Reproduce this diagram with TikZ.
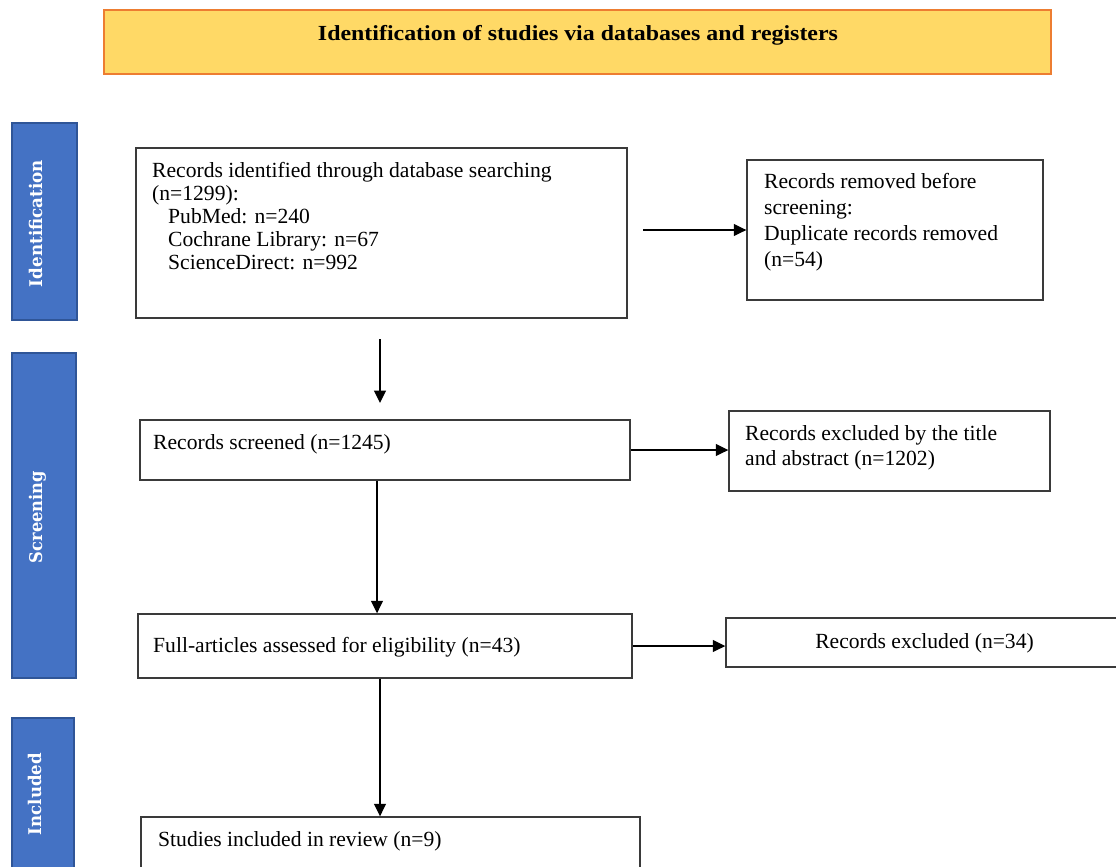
\documentclass[tikz,border=0pt]{standalone}
\usepackage{fontspec}
\setmainfont{Liberation Serif}
\newfontfamily\sidefont{DejaVu Serif}
\usetikzlibrary{arrows.meta}
\definecolor{titlefill}{HTML}{FFD966}
\definecolor{titleborder}{HTML}{ED7D31}
\definecolor{sidefill}{HTML}{4472C4}
\definecolor{sideborder}{HTML}{2F5597}
\definecolor{boxline}{HTML}{3A3A3A}
\begin{document}
\begin{tikzpicture}[x=1pt,y=-1pt,
  box/.style={draw=boxline, line width=1.4pt, rectangle, inner sep=0pt, fill=white},
  titlebox/.style={draw=titleborder, fill=titlefill, line width=2.5pt, rectangle, inner sep=0pt},
  sidebar/.style={draw=sideborder, fill=sidefill, line width=2pt, rectangle, inner sep=0pt},
  sidetext/.style={rotate=90, anchor=base, inner sep=0pt, text=white, font=\sidefont\bfseries\fontsize{17.5}{20}\selectfont},
  txt/.style={anchor=base west, inner sep=0pt, font=\fontsize{21.6}{23}\selectfont},
  arr/.style={draw=black, line width=1.4pt, -{Triangle[length=12.5pt,width=12pt]}}
]
\useasboundingbox (0,0) rectangle (1116,867);
\fill[white] (0,0) rectangle (1116,867);

% title
\node[titlebox, minimum width=947pt, minimum height=64pt] (title) at (577.5,42) {};
\node[anchor=base, inner sep=0pt, font=\bfseries\fontsize{21.5}{24}\selectfont] (titletext) at (578,41)
  {\resizebox{520pt}{\height}{Identification of studies via databases and registers}};

% side bars
\node[sidebar, minimum width=65pt, minimum height=197pt] (sid) at (44.5,221.5) {};
\node[sidetext] (sidt) at (42,223.5) {\resizebox{127pt}{\height}{Identification}};
\node[sidebar, minimum width=64pt, minimum height=325pt] (sscr) at (44,515.5) {};
\node[sidetext] (sscrt) at (42,517) {\resizebox{92pt}{\height}{Screening}};
\node[sidebar, minimum width=62pt, minimum height=162pt] (sinc) at (43,799) {};
\node[sidetext] (sinct) at (41,794) {\resizebox{82pt}{\height}{Included}};

% boxes
\node[box, minimum width=491pt, minimum height=170pt] (b1) at (381.5,233) {};
\node[txt] (t1) at (152,177) {\begin{tabular}[t]{@{}l@{}}Records identified through database searching\\(n=1299):\\\hspace{16pt}PubMed: n=240\\\hspace{16pt}Cochrane Library: n=67\\\hspace{16pt}ScienceDirect: n=992\end{tabular}};

\node[box, minimum width=296pt, minimum height=140pt] (b2) at (895,230) {};
\node[txt, font=\fontsize{21.6}{26}\selectfont] (t2) at (764,188) {\begin{tabular}[t]{@{}l@{}}Records removed before\\screening:\\Duplicate records removed\\(n=54)\end{tabular}};

\node[box, minimum width=490pt, minimum height=60pt] (b3) at (385,450) {};
\node[txt] (t3) at (153,449) {Records screened (n=1245)};

\node[box, minimum width=321pt, minimum height=80pt] (b4) at (889.5,451) {};
\node[txt, font=\fontsize{21.6}{25}\selectfont] (t4) at (745,440) {\begin{tabular}[t]{@{}l@{}}Records excluded by the title\\and abstract (n=1202)\end{tabular}};

\node[box, minimum width=494pt, minimum height=64pt] (b5) at (385,646) {};
\node[txt] (t5) at (153,652) {Full-articles assessed for eligibility (n=43)};

\node[box, minimum width=396pt, minimum height=49pt] (b6) at (924,642.5) {};
\node[txt, anchor=base] (t6) at (924.5,648) {Records excluded (n=34)};

\node[box, minimum width=499pt, minimum height=63pt] (b7) at (390.5,848.5) {};
\node[txt] (t7) at (158,846) {Studies included in review (n=9)};

% connectors
\coordinate (a1s) at (643,230);
\draw[arr] (a1s) -- (b2.west);
\coordinate (a2s) at (380,339);
\coordinate (a2e) at (380,403);
\draw[arr] (a2s) -- (a2e);
\draw[arr] (b3.east) -- (b4.west |- b3.east);
\coordinate (v2) at (377,0);
\draw[arr] (v2 |- b3.south) -- (v2 |- b5.north);
\draw[arr] (b5.east) -- (b6.west |- b5.east);
\coordinate (v3) at (380,0);
\draw[arr] (v3 |- b5.south) -- (v3 |- b7.north);
\end{tikzpicture}
\end{document}
